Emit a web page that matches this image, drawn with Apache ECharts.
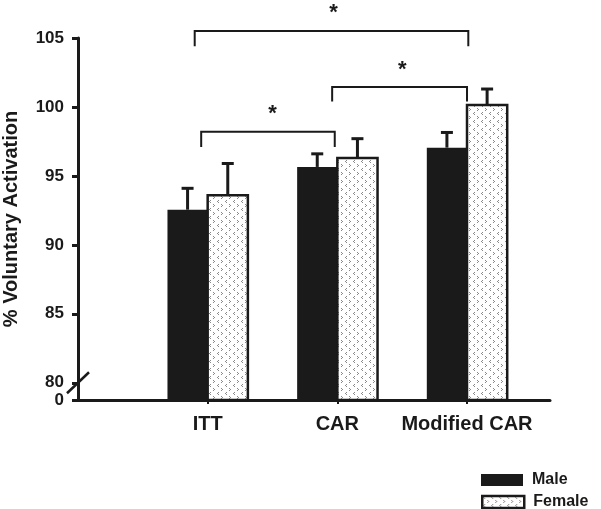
<!DOCTYPE html>
<html>
<head>
<meta charset="utf-8">
<script src="https://cdn.jsdelivr.net/npm/echarts@6/dist/echarts.min.js"></script>
<style>
html,body{margin:0;padding:0;background:#fff;}
#chart{width:601px;height:509px;}
</style>
</head>
<body>
<div id="chart"></div>
<script>
// ---- data ----
const categories = ['ITT', 'CAR', 'Modified CAR'];
const seriesNames = ['Male', 'Female'];
const maleValues = [92.55, 95.65, 97.05];
const maleErrors = [1.55, 0.95, 1.1];
const femaleValues = [93.6, 96.3, 100.15];
const femaleErrors = [2.3, 1.4, 1.15];
const yTickValues = [80, 85, 90, 95, 100, 105];
const yBreakLabel = '0';
// significance comparisons (x in category units, 1-based; y in % units)
const bracketStart = [0.95, 1.96, 0.90];
const bracketEnd = [1.98, 3.00, 3.01];
const bracketLevel = [98.2, 101.45, 105.5];
const bracketDrop = [1.1, 1.05, 1.1];
const starX = [1.50, 2.50, 1.97];
const starY = [99.5, 102.7, 106.8];
const starLabel = ['*', '*', '*'];

// ---- config ----
const Y_MIN = 78.75, Y_MAX = 105;
const X_MIN = 0, X_MAX = 3.64;
const BAR_SPAN = 0.31;
const INK = '#1a1a1a';
const FONT = 'Liberation Sans, Arial, sans-serif';

// dotted pattern for Female
const tile = document.createElement('canvas');
tile.width = 8; tile.height = 8;
const tctx = tile.getContext('2d');
tctx.fillStyle = '#ffffff'; tctx.fillRect(0, 0, 8, 8);
tctx.fillStyle = '#8a8a8a';
tctx.fillRect(2, 0, 1, 1); tctx.fillRect(1, 1, 1, 1); tctx.fillRect(2, 2, 1, 1);
tctx.fillRect(5, 4, 1, 1); tctx.fillRect(6, 5, 1, 1); tctx.fillRect(5, 6, 1, 1);
const femaleFill = { image: tile, repeat: 'repeat' };

function barRenderer(side, fill, stroke, strokeWidth) {
  return function (params, api) {
    const x = api.value(0), v = api.value(1), e = api.value(2);
    const top = api.coord([x, v]);
    const base = api.coord([x, Y_MIN]);
    const w = api.size([BAR_SPAN, 0])[0];
    const x0 = side < 0 ? top[0] - w : top[0];
    const xc = x0 + w / 2;
    const errTop = api.coord([x, v + e]);
    return {
      type: 'group',
      children: [
        { type: 'rect', shape: { x: x0, y: top[1], width: w, height: base[1] - top[1] },
          style: { fill: fill, stroke: stroke, lineWidth: strokeWidth } },
        { type: 'line', shape: { x1: xc, y1: top[1], x2: xc, y2: errTop[1] },
          style: { stroke: INK, lineWidth: 3 } },
        { type: 'line', shape: { x1: xc - 6, y1: errTop[1], x2: xc + 6, y2: errTop[1] },
          style: { stroke: INK, lineWidth: 3 } }
      ]
    };
  };
}

const maleData = maleValues.map((v, k) => [k + 1, v, maleErrors[k]]);
const femaleData = femaleValues.map((v, k) => [k + 1, v, femaleErrors[k]]);
const bracketData = bracketStart.map((s, k) => [s, bracketEnd[k], bracketLevel[k], bracketDrop[k], starX[k], starY[k]]);

const legendText = { color: INK, fontFamily: FONT, fontWeight: 'bold', fontSize: 16, padding: [0, 0, 0, 4] };

const chart = echarts.init(document.getElementById('chart'), null, { renderer: 'canvas' });
chart.setOption({
  animation: false,
  backgroundColor: '#ffffff',
  grid: { left: 78, right: 51, top: 38, bottom: 109, containLabel: false, outerBoundsMode: 'none' },
  xAxis: {
    type: 'value', min: X_MIN, max: X_MAX,
    splitLine: { show: false },
    axisLine: { show: true, lineStyle: { color: INK, width: 3 } },
    axisTick: { show: true, length: 4, lineStyle: { color: INK, width: 2 },
      customValues: categories.map((c, i) => i + 1) },
    axisLabel: { show: true, margin: 14, color: INK, fontFamily: FONT, fontWeight: 'bold', fontSize: 20,
      customValues: categories.map((c, i) => i + 1),
      formatter: v => categories[Math.round(v) - 1] || '' }
  },
  yAxis: {
    type: 'value', min: Y_MIN, max: Y_MAX,
    name: '% Voluntary Activation', nameLocation: 'middle', nameGap: 57,
    nameTextStyle: { color: INK, fontFamily: FONT, fontWeight: 'bold', fontSize: 20 },
    splitLine: { show: false },
    axisLine: { show: true, lineStyle: { color: INK, width: 3 } },
    axisTick: { show: true, length: 6, lineStyle: { color: INK, width: 3 },
      customValues: [Y_MIN].concat(yTickValues) },
    axisLabel: { show: true, margin: 14, color: INK, fontFamily: FONT, fontWeight: 'bold', fontSize: 17,
      customValues: [Y_MIN].concat(yTickValues),
      formatter: v => (v < yTickValues[0] ? yBreakLabel : String(v)) }
  },
  legend: [
    { left: 481, top: 472, padding: 0, itemWidth: 42, itemHeight: 12, textStyle: legendText,
      data: [{ name: seriesNames[0], icon: 'rect', itemStyle: { color: INK, borderWidth: 0 } }] },
    { left: 481, top: 494, padding: 0, itemWidth: 42, itemHeight: 12, textStyle: legendText,
      data: [{ name: seriesNames[1], icon: 'rect',
        itemStyle: { color: femaleFill, borderColor: INK, borderWidth: 2.5 } }] }
  ],
  series: [
    { name: seriesNames[0], type: 'custom', data: maleData, clip: false,
      itemStyle: { color: INK }, encode: { x: 0, y: 1 },
      renderItem: barRenderer(-1, INK, null, 0) },
    { name: seriesNames[1], type: 'custom', data: femaleData, clip: false,
      itemStyle: { color: femaleFill, borderColor: INK, borderWidth: 2.5 }, encode: { x: 0, y: 1 },
      renderItem: barRenderer(1, femaleFill, INK, 2.5) },
    { name: 'brackets', type: 'custom', data: bracketData, clip: false, silent: true,
      encode: { x: [0, 1], y: 2 },
      renderItem: function (params, api) {
        const p1 = api.coord([api.value(0), api.value(2)]);
        const p2 = api.coord([api.value(1), api.value(2)]);
        const d = api.coord([api.value(0), api.value(2) - api.value(3)]);
        const s = api.coord([api.value(4), api.value(5)]);
        return {
          type: 'group',
          children: [
            { type: 'polyline', shape: { points: [[p1[0], d[1]], p1, p2, [p2[0], d[1]]] },
              style: { stroke: INK, lineWidth: 2, fill: null } },
            { type: 'text', x: s[0], y: s[1],
              style: { text: starLabel[params.dataIndex], fill: INK, font: 'bold 22px ' + FONT,
                align: 'center', verticalAlign: 'middle' } }
          ]
        };
      } },
    { name: 'break', type: 'custom', data: [[X_MIN, yTickValues[0]]], clip: false, silent: true,
      encode: { x: 0, y: 1 },
      renderItem: function (params, api) {
        const c = api.coord([api.value(0), api.value(1)]);
        return { type: 'line', shape: { x1: c[0] - 11, y1: c[1] + 10.5, x2: c[0] + 11, y2: c[1] - 10.5 },
          style: { stroke: INK, lineWidth: 2.5 } };
      } }
  ]
});
</script>
</body>
</html>
